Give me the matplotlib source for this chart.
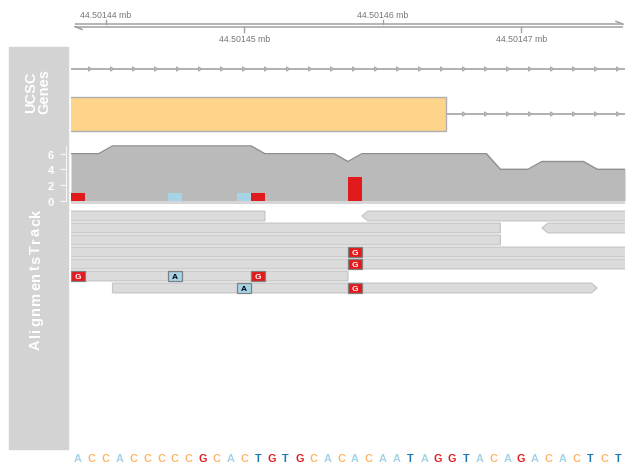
import numpy as np
import matplotlib
matplotlib.use("Agg")
import matplotlib.pyplot as plt
from matplotlib.patches import Rectangle, Polygon

plt.rcParams['font.family'] = ['Liberation Sans', 'DejaVu Sans']

W, H = 626, 464

# ---------------- data ----------------
chrom_start = 44501438
sequence = list("ACCACCCCCGCACTGTGCACACAATAGGTACAGACACTCT")
positions = chrom_start + np.arange(len(sequence))

axis_ticks = [44501440, 44501450, 44501460, 44501470]
axis_tick_labels = ["44.50144 mb", "44.50145 mb", "44.50146 mb", "44.50147 mb"]

# UCSC genes: two transcripts (plus strand), exon of transcript 2
tx_rows = [1, 2]
tx_starts = [44501380, 44501380]
tx_ends = [44501520, 44501520]
exon_rows = [2]
exon_starts = [44501380]
exon_ends = [44501464.1]

# aligned reads
read_rows = [1, 1, 2, 2, 3, 4, 5, 6, 7]
read_starts = [44501402, 44501459, 44501420, 44501472, 44501420, 44501400, 44501405, 44501410, 44501441]
read_ends = [44501451, 44501510, 44501468, 44501520, 44501468, 44501515, 44501520, 44501457, 44501475]
read_strands = ['-', '-', '-', '-', '-', '+', '+', '-', '+']

# mismatches: (read index, position, base)
mm_read = [5, 6, 7, 7, 7, 8, 8]
mm_pos = [44501458, 44501458, 44501438, 44501445, 44501451, 44501450, 44501458]
mm_base = ['G', 'G', 'G', 'A', 'G', 'A', 'G']

base_colors = {'A': '#A6D3E6', 'C': '#FDB56A', 'G': '#E31A1C', 'T': '#1F78B4'}
mm_text_colors = {'A': 'black', 'C': 'black', 'G': 'white', 'T': 'white'}

# coverage derived from the reads
coverage = np.array([sum(1 for s, e in zip(read_starts, read_ends) if s <= p <= e) for p in positions])

# ---------------- layout ----------------
fig = plt.figure(figsize=(W / 100, H / 100), dpi=100)

XL, XR = 71, 625
XLIM = (chrom_start - 0.5, chrom_start + len(sequence) - 0.5)
bp_per_px = (XLIM[1] - XLIM[0]) / (XR - XL)


def px_axes(x0, y0, x1, y1):
    ax = fig.add_axes([x0 / W, 1 - y1 / H, (x1 - x0) / W, (y1 - y0) / H])
    ax.set_facecolor('none')
    for s in ax.spines.values():
        s.set_visible(False)
    ax.set_xticks([])
    ax.set_yticks([])
    ax.set_xlim(*XLIM)
    return ax


def panel(y0, y1):
    fig.patches.append(Rectangle((9 / W, 1 - y1 / H), 59 / W, (y1 - y0) / H,
                                 transform=fig.transFigure, color='#D3D3D3', zorder=-5))


# title panels
panel(48, 136.8)
panel(138, 450)
fig.text(37.5 / W, 1 - 92 / H, "UCSC\nGenes", rotation=90, color='white', fontsize=10.5,
         fontweight='bold', ha='center', va='center', linespacing=0.95)

# "AlignmentsTrack" drawn with slightly widened letter spacing (as in the reference)
title2 = "AlignmentsTrack"
renderer = fig.canvas.get_renderer()
widths = []
for ch in title2:
    t = fig.text(0, 0, ch, fontsize=10.5, fontweight='bold')
    widths.append(t.get_window_extent(renderer).width)
    t.remove()
extra = 1.6
total = sum(widths) + extra * (len(title2) - 1)
ypos = 279 + total / 2  # bottom pixel (text reads bottom-to-top)
for ch, w in zip(title2, widths):
    fig.text(36 / W, 1 - (ypos - w / 2) / H, ch, rotation=90, color='white', fontsize=10.5,
             fontweight='bold', ha='center', va='center')
    ypos -= w + extra

# ---------------- genome axis ----------------
axA = px_axes(XL, 0, XR, 48)
axA.set_ylim(48, 0)
axc = '#A0A0A0'
xa0 = XLIM[0] + 4 * bp_per_px
xa1 = XLIM[1] - 2 * bp_per_px
y_up, y_lo = 25.2, 27.6
axA.plot([xa0, xa1], [y_up, y_up], color=axc, lw=1.1, solid_capstyle='butt')
axA.plot([xa0, xa1], [y_lo, y_lo], color=axc, lw=1.1, solid_capstyle='butt')
axA.plot([xa1, xa1 - 7 * bp_per_px], [y_up, y_up - 2.8], color=axc, lw=1.1)
axA.plot([xa0, xa0 + 7 * bp_per_px], [y_lo, y_lo + 2.8], color=axc, lw=1.1)
for i, (t, lab) in enumerate(zip(axis_ticks, axis_tick_labels)):
    if i % 2 == 0:
        axA.plot([t, t], [y_up, y_up - 4], color=axc, lw=1)
        axA.text(t, 15.5, lab, ha='center', va='center', fontsize=6.3, color='#777777')
    else:
        axA.plot([t, t], [y_lo, y_lo + 5], color=axc, lw=1)
        axA.text(t, 40, lab, ha='center', va='center', fontsize=6.3, color='#777777')

# ---------------- gene track ----------------
axG = px_axes(XL, 48, XR, 137)
axG.set_ylim(137, 48)
row_y = {1: 70, 2: 115}
line_c = '#A3A3A3'
chev_origin = XLIM[0] + 19 * bp_per_px
chev_step = 22 * bp_per_px
for r, s, e in zip(tx_rows, tx_starts, tx_ends):
    y = row_y[r]
    ex = [(es, ee) for er, es, ee in zip(exon_rows, exon_starts, exon_ends) if er == r]
    axG.plot([s, e], [y, y], color=line_c, lw=1.2, zorder=1)
    k = np.arange(-5, 40)
    cxs = chev_origin + k * chev_step
    for c in cxs:
        if c < XLIM[0] or c > XLIM[1]:
            continue
        if any(es - 0.5 <= c <= ee + 0.5 + 8 * bp_per_px for es, ee in ex):
            continue
        axG.add_patch(Polygon([(c - 1.5 * bp_per_px, y - 2.2), (c + 1.8 * bp_per_px, y),
                               (c - 1.5 * bp_per_px, y + 2.2)], closed=True,
                              facecolor='#C4C4C4', edgecolor='#A8A8A8', lw=0.7, zorder=2))
for r, s, e in zip(exon_rows, exon_starts, exon_ends):
    y = row_y[r]
    axG.add_patch(Rectangle((s - 0.5, y - 16.7), (e + 0.5) - (s - 0.5), 33.4,
                            facecolor='#FED48A', edgecolor='#AFAFAF', lw=1.0, zorder=3))

# ---------------- coverage ----------------
axC = px_axes(XL, 140, XR, 204.5)
ppu = 7.8
axC.set_ylim(-3 / ppu, (201.5 - 140) / ppu)
cx = np.concatenate([positions - 0.5, [positions[-1] + 0.5]])
cy = np.concatenate([coverage, [coverage[-1]]])
axC.fill_between(cx, 0, cy, color='#BABABA', lw=0, zorder=1)
axC.plot(cx, cy, color='#8E8E8E', lw=1.0, zorder=2)
axC.axhspan(-3 / ppu, 0, color='#D6D6D6', lw=0, zorder=1)
stack = {}
for p, b in sorted(zip(mm_pos, mm_base)):
    stack[(p, b)] = stack.get((p, b), 0) + 1
bottoms = {}
for (p, b), n in stack.items():
    bot = bottoms.get(p, 0)
    axC.bar(p, n, width=1, bottom=bot, color=base_colors[b], lw=0, zorder=3)
    bottoms[p] = bot + n
axC.spines['left'].set_visible(True)
axC.spines['left'].set_color('#F4F4F4')
axC.spines['left'].set_position(('outward', 3.9))
axC.spines['left'].set_bounds(0, 7)
axC.set_yticks([0, 2, 4, 6])
axC.tick_params(axis='y', colors='#F4F4F4', length=4.1, width=0.9, pad=4.3,
                labelsize=8, labelcolor='white')
for t in axC.get_yticklabels():
    t.set_fontweight('bold')

# ---------------- reads ----------------
axR = px_axes(XL, 205, XR, 450)
row_px = 12.0
axR.set_ylim(1 + (450 - 217) / row_px, 1 + (205 - 217) / row_px)
h = 9.8 / row_px
arr = 6 * bp_per_px
for r, s, e, st in zip(read_rows, read_starts, read_ends, read_strands):
    x0, x1 = s - 0.5, e + 0.5
    if st == '+':
        verts = [(x0, r - h / 2), (x1 - arr, r - h / 2), (x1, r), (x1 - arr, r + h / 2), (x0, r + h / 2)]
    else:
        verts = [(x0 + arr, r - h / 2), (x1, r - h / 2), (x1, r + h / 2), (x0 + arr, r + h / 2), (x0, r)]
    axR.add_patch(Polygon(verts, closed=True, facecolor='#DBDBDB', edgecolor='#C6C6C6', lw=0.9, zorder=1))
for ri, p, b in zip(mm_read, mm_pos, mm_base):
    r = read_rows[ri]
    axR.add_patch(Rectangle((p - 0.5, r - h / 2), 1, h, facecolor=base_colors[b],
                            edgecolor='#808080', lw=0.9, zorder=2))
    axR.text(p, r + 0.02, b, ha='center', va='center', fontsize=6, fontweight='bold',
             color=mm_text_colors[b], zorder=3)

# ---------------- sequence ----------------
axS = px_axes(XL, 450, XR, 464)
axS.set_ylim(464, 450)
for p, b in zip(positions, sequence):
    axS.text(p, 459.5, b, ha='center', va='center', fontsize=7.8, fontweight='bold',
             color=base_colors[b])

fig.savefig("out.png", dpi=100)
